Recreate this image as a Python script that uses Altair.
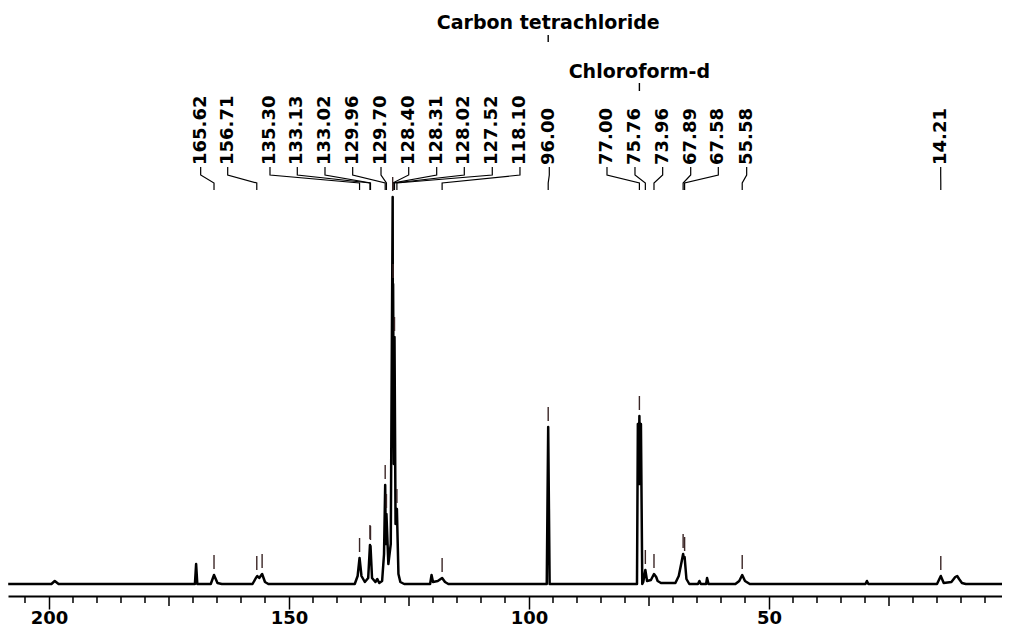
import altair as alt
import pandas as pd

# ---- spectrum vertices (ppm, intensity above baseline) ----
spec_ppm = [208.5, 199.5, 198.8, 198.0, 169.6, 169.35, 169.1, 166.3, 165.62, 164.9, 164.0,
            157.6, 156.9, 156.6, 156.2, 155.6, 155.0, 154.3,
            136.3, 135.7, 135.3, 134.9, 134.2, 133.5, 133.13, 133.07, 133.02, 132.7, 132.0,
            131.6, 131.2, 130.6, 130.2, 129.96, 129.83, 129.70, 129.3, 128.8, 128.40, 128.36,
            128.31, 128.15, 128.02, 127.8, 127.52, 127.2, 126.8, 126.0,
            120.6, 120.3, 120.0, 119.0, 118.1, 117.5, 116.8,
            96.3, 96.0, 95.7,
            77.5, 77.32, 77.16, 77.00, 76.84, 76.68, 76.4, 76.2, 75.76, 75.4, 74.6, 73.96, 73.5,
            73.2, 72.5, 69.5, 68.8, 68.3, 67.89, 67.75, 67.58, 67.2, 66.6,
            64.8, 64.5, 64.2, 63.1, 62.9, 62.6, 57.0, 56.2, 55.58, 55.0, 54.0,
            29.9, 29.6, 29.3, 15.0, 14.21, 13.6, 12.0, 11.2, 10.8, 10.4, 9.8, 9.0, -0.5]
spec_int = [0, 0, 3, 0, 0, 20, 0, 0, 9, 1, 0,
            0, 6, 8, 6, 10, 2, 0,
            0, 8, 26, 8, 2, 6, 39, 30, 38, 6, 2,
            5, 1, 3, 30, 99, 40, 70, 20, 40, 387, 200,
            300, 120, 247, 60, 75, 10, 2, 0,
            0, 9, 2, 3, 6, 2, 0,
            0, 157, 0,
            0, 160, 100, 168, 100, 160, 0, 2, 14, 3, 4, 10, 7,
            3, 1, 1, 8, 20, 30, 26, 27, 5, 0,
            0, 3, 0, 0, 6, 0, 0, 3, 9, 3, 0,
            0, 3, 0, 0, 8, 1, 2, 7, 8, 5, 1, 0, 0]

# ---- labelled peaks ----
peak_ppm = [165.62, 156.71, 135.30, 133.13, 133.02, 129.96, 129.70, 128.40, 128.31, 128.02,
            127.52, 118.10, 96.00, 77.00, 75.76, 73.96, 67.89, 67.58, 55.58, 14.21]
peak_top = [9, 8, 26, 39, 38, 99, 70, 387, 300, 247, 75, 6, 157, 168, 14, 10, 30, 27, 9, 8]
label_pos = [168.40, 162.77, 153.96, 148.27, 142.50, 136.73, 130.83, 125.06, 119.23, 113.48,
             107.65, 101.88, 95.77, 83.75, 77.92, 72.15, 66.31, 60.56, 54.65, 14.23]

# peak picked but not labelled
extra_marker_ppm = [155.6]
extra_marker_top = [10]

# ---- solvent annotations ----
solvent_names = ["Carbon tetrachloride", "Chloroform-d"]
solvent_ppm = [96.0, 77.0]

# ---- axis ticks ----
major_ticks = [0, 50, 100, 150, 200]
medium_ticks = [25, 75, 125, 175]
minor_ticks = [v for v in range(5, 210, 5) if v % 25 != 0]

# annotation levels (in intensity units above the baseline)
LABEL_Y = 419
LEAD_Y = [417, 409, 401, 394]
SOLV_TXT_Y = [561, 512]
SOLV_TICK_Y = [(549, 542), (501, 493)]

FONT = "DejaVu Sans"
XS = alt.Scale(domain=[208.54, 1.458], nice=False, zero=False)
YS = alt.Scale(domain=[-12, 576], nice=False, zero=False)

spec = pd.DataFrame({"ppm": spec_ppm, "h": spec_int, "i": range(len(spec_ppm))})

lead_rows = []
for k, (p, lp) in enumerate(zip(peak_ppm, label_pos)):
    for o, (xx, yy) in enumerate(zip([lp, lp, p, p], LEAD_Y)):
        lead_rows.append({"id": k, "o": o, "ppm": xx, "h": yy})
leaders = pd.DataFrame(lead_rows)

labels = pd.DataFrame({"ppm": label_pos, "txt": [f"{v:.2f}" for v in peak_ppm], "h": LABEL_Y})
m_ppm = peak_ppm + extra_marker_ppm
m_top = peak_top + extra_marker_top
markers = pd.DataFrame({"ppm": m_ppm, "y1": [t + 6 for t in m_top],
                        "y2": [t + 20 for t in m_top]})
solv = pd.DataFrame({"ppm": solvent_ppm, "name": solvent_names, "h": SOLV_TXT_Y,
                     "t1": [a for a, b in SOLV_TICK_Y], "t2": [b for a, b in SOLV_TICK_Y]})
ticks = pd.DataFrame({"ppm": minor_ticks + medium_ticks,
                      "y1": -12,
                      "y2": [-19] * len(minor_ticks) + [-22] * len(medium_ticks)})

x_axis = alt.Axis(values=major_ticks, tickSize=13, tickWidth=1.5, tickColor="black",
                  domainWidth=2, domainColor="black", labelFont=FONT, labelFontWeight="bold",
                  labelFontSize=18, labelColor="black", labelPadding=0, labelFlush=False,
                  labelOverlap=False, grid=False, title=None)

X = alt.X("ppm:Q", scale=XS, axis=x_axis)

line = alt.Chart(spec).mark_line(color="black", strokeWidth=2.5, strokeJoin="round").encode(
    x=X, y=alt.Y("h:Q", scale=YS, axis=None), order="i:Q",
)

lead = alt.Chart(leaders).mark_line(color="black", strokeWidth=1.2).encode(
    x=X, y=alt.Y("h:Q", scale=YS, axis=None), detail="id:N", order="o:Q",
)

lab = alt.Chart(labels).mark_text(angle=270, align="left", baseline="middle", font=FONT,
                                   fontWeight="bold", fontSize=18, color="black").encode(
    x=X, y=alt.Y("h:Q", scale=YS, axis=None), text="txt:N",
)

mk = alt.Chart(markers).mark_rule(color="#3b2626", strokeWidth=1.4).encode(
    x=X, y=alt.Y("y1:Q", scale=YS, axis=None), y2="y2:Q",
)

stxt = alt.Chart(solv).mark_text(align="center", baseline="middle", font=FONT,
                                 fontWeight="bold", fontSize=19, color="black").encode(
    x=X, y=alt.Y("h:Q", scale=YS, axis=None), text="name:N",
)

stick = alt.Chart(solv).mark_rule(color="black", strokeWidth=1.4).encode(
    x=X, y=alt.Y("t1:Q", scale=YS, axis=None), y2="t2:Q",
)

tk = alt.Chart(ticks).mark_rule(color="black", strokeWidth=1.5).encode(
    x=X, y=alt.Y("y1:Q", scale=YS, axis=None), y2="y2:Q",
)

chart = alt.layer(line, lead, lab, mk, stxt, stick, tk).properties(
    width=994, height=588,
    autosize=alt.AutoSizeParams(type="none"),
    padding={"left": 0, "right": 0, "top": 0, "bottom": 33},
    background="white",
).configure_view(stroke=None)

chart.save("out.html", embed_options={"renderer": "svg", "actions": False})
